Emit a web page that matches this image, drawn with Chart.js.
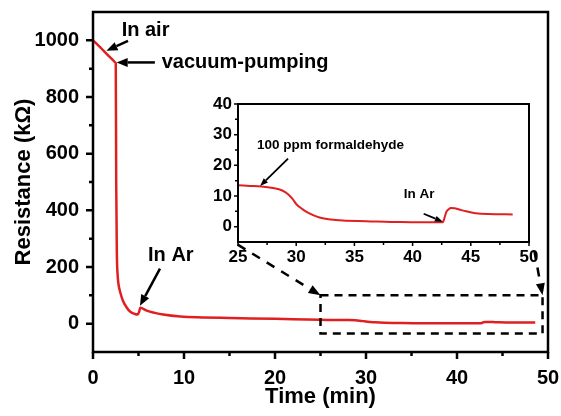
<!DOCTYPE html>
<html><head><meta charset="utf-8">
<script src="https://cdn.jsdelivr.net/npm/chart.js@4"></script>
<style>
html,body{margin:0;padding:0;background:#fff;}
#wrap{position:relative;width:561px;height:416px;overflow:hidden;}
#main{position:absolute;left:0;top:0;}
#inset{position:absolute;left:200px;top:90px;}
</style></head><body>
<div id="wrap"><canvas id="main" width="561" height="416"></canvas><canvas id="inset" width="345" height="180"></canvas></div>
<script>
const FONT = '"Liberation Sans", Arial, Helvetica, sans-serif';
const RED = '#e02020';

// Early part of the run (min, kOhm)
const earlyTime = [0, 0.8, 1.6, 2.2, 2.45, 2.5, 2.55, 2.62, 2.7, 2.8, 3.0, 3.3, 3.7, 4.1, 4.6, 4.9, 5.05, 5.2, 5.9, 6.8, 7.7, 9.6, 12, 15, 20];
const earlyRes  = [1000, 975, 949, 930, 922, 920, 500, 250, 175, 140, 110, 80, 57, 42, 34, 32, 40, 56, 46, 38, 32, 25, 22, 20, 17];
// Later part (shown in the inset) (min, kOhm)
const lateTime = [25, 26, 27, 28, 28.8, 29.3, 29.7, 30, 30.5, 31, 32, 33, 34, 36, 39, 42.6, 42.75, 42.9, 43.1, 43.3, 43.6, 44, 44.6, 45.4, 46.5, 48.6];
const lateRes  = [13.5, 13.3, 13.1, 12.6, 11.8, 10.6, 9.0, 7.4, 5.8, 4.6, 3.0, 2.3, 2.0, 1.8, 1.5, 1.4, 3.0, 4.8, 5.7, 6.1, 6.0, 5.6, 5.0, 4.4, 4.1, 4.0];

// Tick labels
const mainXTicks = [0, 10, 20, 30, 40, 50];
const mainXMinor = [5, 15, 25, 35, 45];
const mainYTicks = [0, 200, 400, 600, 800, 1000];
const mainYMinor = [100, 300, 500, 700, 900];
const insetXTicks = [25, 30, 35, 40, 45, 50];
const insetXMinor = [27.5, 32.5, 37.5, 42.5, 47.5];
const insetYTicks = [0, 10, 20, 30, 40];
const insetYMinor = [5, 15, 25, 35];

// Zoom window drawn on the main chart (data units)
const zoomX = [25, 49.4];
const zoomY = [-35, 100];

// Annotations (data units)
const mainNotes = [
  {text: 'In air', x: 3.15, y: 1033},
  {text: 'vacuum-pumping', x: 7.55, y: 922},
  {text: 'In Ar', x: 6.05, y: 240}
];
const mainArrows = [
  {from: [3.85, 998], to: [1.48, 963]},
  {from: [6.8, 922], to: [2.6, 922]},
  {from: [7.36, 194], to: [5.16, 63]}
];
const linkArrows = [
  {from: [15.9, 279], to: [25, 100]},
  {from: [48.5, 257], to: [49.4, 100]}
];
const insetNotes = [
  {text: '100 ppm formaldehyde', x: 26.63, y: 26.5},
  {text: 'In Ar', x: 39.25, y: 10.7}
];
const insetArrows = [
  {from: [29.3, 22.2], to: [26.9, 13.3]},
  {from: [40.95, 4.2], to: [42.6, 1.6]}
];

function pts(t, r) { return t.map((v, i) => ({x: v, y: r[i]})); }

function arrow(ctx, x1, y1, x2, y2, hl, hw, lw, dash) {
  const dx = x2 - x1, dy = y2 - y1, L = Math.hypot(dx, dy);
  const ux = dx / L, uy = dy / L;
  const bx = x2 - ux * hl, by = y2 - uy * hl;
  ctx.save();
  ctx.strokeStyle = '#000'; ctx.fillStyle = '#000'; ctx.lineWidth = lw;
  ctx.setLineDash(dash || []);
  ctx.beginPath(); ctx.moveTo(x1, y1); ctx.lineTo(bx, by); ctx.stroke();
  ctx.setLineDash([]);
  ctx.beginPath();
  ctx.moveTo(x2, y2);
  ctx.lineTo(bx - uy * hw / 2, by + ux * hw / 2);
  ctx.lineTo(bx + uy * hw / 2, by - ux * hw / 2);
  ctx.closePath(); ctx.fill();
  ctx.restore();
}

const framePlugin = {
  id: 'frame',
  afterDatasetsDraw(chart, args, o) {
    const {ctx, chartArea: a, scales: {x, y}} = chart;
    ctx.save();
    ctx.strokeStyle = '#000';
    ctx.lineWidth = o.lw;
    ctx.strokeRect(a.left, a.top, a.right - a.left, a.bottom - a.top);
    ctx.lineWidth = o.tw;
    ctx.beginPath();
    o.xMajor.forEach(v => { const p = x.getPixelForValue(v); ctx.moveTo(p, a.bottom); ctx.lineTo(p, a.bottom + o.major); });
    o.xMinor.forEach(v => { const p = x.getPixelForValue(v); ctx.moveTo(p, a.bottom); ctx.lineTo(p, a.bottom + o.minor); });
    o.yMajor.forEach(v => { const p = y.getPixelForValue(v); ctx.moveTo(a.left, p); ctx.lineTo(a.left - o.major, p); });
    o.yMinor.forEach(v => { const p = y.getPixelForValue(v); ctx.moveTo(a.left, p); ctx.lineTo(a.left - o.minor, p); });
    ctx.stroke();
    ctx.fillStyle = '#000';
    ctx.font = 'bold ' + o.noteSize + 'px ' + FONT;
    ctx.textAlign = 'left'; ctx.textBaseline = 'middle';
    o.notes.forEach(n => ctx.fillText(n.text, x.getPixelForValue(n.x), y.getPixelForValue(n.y)));
    o.arrows.forEach(r => arrow(ctx, x.getPixelForValue(r.from[0]), y.getPixelForValue(r.from[1]),
      x.getPixelForValue(r.to[0]), y.getPixelForValue(r.to[1]), o.hl, o.hw, o.alw));
    if (o.box) {
      ctx.setLineDash([8, 6]);
      ctx.lineWidth = 2.5;
      const x0 = x.getPixelForValue(o.box.x[0]), x1 = x.getPixelForValue(o.box.x[1]);
      const y0 = y.getPixelForValue(o.box.y[0]), y1 = y.getPixelForValue(o.box.y[1]);
      ctx.strokeRect(x0, y1, x1 - x0, y0 - y1);
      ctx.setLineDash([]);
      o.links.forEach(r => arrow(ctx, x.getPixelForValue(r.from[0]), y.getPixelForValue(r.from[1]),
        x.getPixelForValue(r.to[0]), y.getPixelForValue(r.to[1]), 12, 9, 2.5, [9, 8]));
    }
    ctx.restore();
  }
};

function scaleOpts(min, max, ticks, size, pad, fitKey, fitVal, title) {
  const o = {
    type: 'linear', min: min, max: max,
    afterBuildTicks: s => { s.ticks = ticks.map(v => ({value: v})); },
    ticks: {color: '#000', font: {family: FONT, size: size, weight: 'bold'}, padding: pad, autoSkip: false, maxRotation: 0,
      callback: v => String(v)},
    grid: {display: false, drawTicks: false, tickLength: 0},
    border: {display: false},
    afterFit: s => { s[fitKey] = fitVal; s.paddingLeft = 0; s.paddingRight = 0; s.paddingTop = 0; s.paddingBottom = 0; }
  };
  if (title) o.title = title;
  return o;
}

new Chart(document.getElementById('main'), {
  type: 'line',
  data: {datasets: [{data: pts(earlyTime.concat(lateTime), earlyRes.concat(lateRes)), borderColor: RED, borderWidth: 2.5,
    pointRadius: 0, fill: false, cubicInterpolationMode: 'monotone'}]},
  options: {
    responsive: false, animation: false, devicePixelRatio: 1,
    layout: {padding: {top: 12, right: 13, left: 0, bottom: 0}},
    plugins: {legend: {display: false}, tooltip: {enabled: false},
      frame: {lw: 2.5, tw: 2.5, major: 7, minor: 4, xMajor: mainXTicks, xMinor: mainXMinor, yMajor: mainYTicks, yMinor: mainYMinor,
        notes: mainNotes, arrows: mainArrows, noteSize: 20, hl: 11, hw: 9, alw: 2.5,
        box: {x: zoomX, y: zoomY}, links: linkArrows}},
    scales: {
      x: scaleOpts(0, 50, mainXTicks, 20, 14, 'height', 64,
        {display: true, text: 'Time (min)', color: '#000', font: {family: FONT, size: 22, weight: 'bold'}, padding: {top: 0, bottom: 6}}),
      y: scaleOpts(-100, 1100, mainYTicks, 20, 14, 'width', 93,
        {display: true, text: 'Resistance (kΩ)', color: '#000', font: {family: FONT, size: 22, weight: 'bold'}, padding: {top: 11, bottom: 0}})
    }
  },
  plugins: [framePlugin]
});

new Chart(document.getElementById('inset'), {
  type: 'line',
  data: {datasets: [{data: pts(lateTime, lateRes), borderColor: RED, borderWidth: 2,
    pointRadius: 0, fill: false, cubicInterpolationMode: 'monotone'}]},
  options: {
    responsive: false, animation: false, devicePixelRatio: 1,
    layout: {padding: {top: 14, right: 16, left: 0, bottom: 0}},
    plugins: {legend: {display: false}, tooltip: {enabled: false},
      frame: {lw: 2, tw: 1.5, major: 4, minor: 3, xMajor: insetXTicks, xMinor: insetXMinor, yMajor: insetYTicks, yMinor: insetYMinor,
        notes: insetNotes, arrows: insetArrows, noteSize: 13.5, hl: 8, hw: 6, alw: 1.8}},
    scales: {
      x: scaleOpts(25, 50, insetXTicks, 17, 5, 'height', 28),
      y: scaleOpts(-5, 40, insetYTicks, 17, 6, 'width', 38)
    }
  },
  plugins: [framePlugin]
});
</script>
</body></html>
